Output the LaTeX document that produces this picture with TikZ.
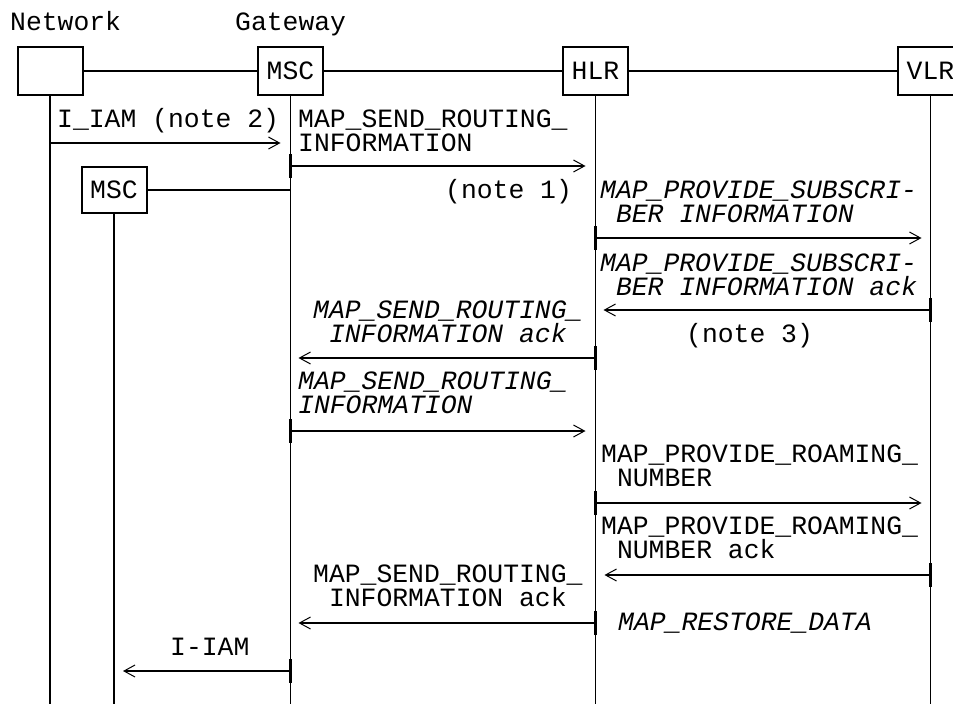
\documentclass[tikz,border=0pt]{standalone}
\usepackage{fontspec}
\setmainfont{Liberation Mono}
\usetikzlibrary{arrows.meta,calc}
\begin{document}
\lineskiplimit=-100pt
\begin{tikzpicture}[x=1pt,y=-1pt,
  every node/.style={font=\fontsize{26.4}{24}\selectfont, inner sep=0pt},
  box/.style={draw, line width=2pt, minimum width=65pt, minimum height=48pt},
  life/.style={line width=1.3pt},
  link/.style={line width=2pt},
  msg/.style={line width=2pt, -{Straight Barb[length=11pt,width=12pt,line width=1pt]}},
  lbl/.style={anchor=base west, align=left},
  it/.style={font=\fontsize{26.4}{24}\selectfont\itshape},
  tick/.style={line width=2.4pt}
]
\useasboundingbox (0,0) rectangle (953,704);
% headers
\node[anchor=base west] (hnet) at (10,30) {Network};
\node[anchor=base west] (hgw) at (235,30) {Gateway};
% boxes
\node[box] (net) at (50,71) {};
\node[box] (gw) at (290.5,71) {MSC};
\node[box] (hlr) at (595.5,71) {HLR};
\node[box] (vlr) at (930.5,71) {VLR};
\node[box, minimum height=46pt] (msc) at (114,190) {MSC};
% links
\draw[link] (net) -- (gw);
\draw[link] (gw) -- (hlr);
\draw[link] (hlr) -- (vlr);
\draw[link] (msc.east) -- (gw |- msc.east);
% lifelines
\foreach \n in {net,gw,hlr,vlr,msc} {
  \coordinate (\n-end) at (\n.south |- 0,704);
  \draw[life] (\n.south) -- (\n-end);
}
% origin ticks
\foreach \s/\y in {net/143, gw/166, hlr/238, vlr/310, hlr/358, gw/431, hlr/503, vlr/575, hlr/623, gw/671} {
  \draw[tick] (\s |- 0,\y-12) -- (\s |- 0,\y+12);
}
% messages
\draw[msg] (net |- 0,143) -- ($(gw |- 0,143)+(-10,0)$);
\draw[msg] (gw |- 0,166) -- ($(hlr |- 0,166)+(-10,0)$);
\draw[msg] (hlr |- 0,238) -- ($(vlr |- 0,238)+(-9,0)$);
\draw[msg] (vlr |- 0,310) -- ($(hlr |- 0,310)+(8,0)$);
\draw[msg] (hlr |- 0,358) -- ($(gw |- 0,358)+(8,0)$);
\draw[msg] (gw |- 0,431) -- ($(hlr |- 0,431)+(-10,0)$);
\draw[msg] (hlr |- 0,503) -- ($(vlr |- 0,503)+(-9,0)$);
\draw[msg] (vlr |- 0,575) -- ($(hlr |- 0,575)+(9,0)$);
\draw[msg] (hlr |- 0,623) -- ($(gw |- 0,623)+(8,0)$);
\draw[msg] (gw |- 0,671) -- ($(msc |- 0,671)+(9,0)$);
% labels
\node[lbl] (l1) at (57,127) {I\_IAM (note 2)};
\node[lbl] (l2) at (298,151) {MAP\_SEND\_ROUTING\_\\INFORMATION};
\node[lbl] (n1) at (445,198) {(note 1)};
\node[lbl,it] (l3) at (600,222) {MAP\_PROVIDE\_SUBSCRI-\\\ BER INFORMATION};
\node[lbl,it] (l4) at (600,295) {MAP\_PROVIDE\_SUBSCRI-\\\ BER INFORMATION ack};
\node[lbl] (n3) at (686,342) {(note 3)};
\node[lbl,it] (l5) at (313,342) {MAP\_SEND\_ROUTING\_\\\ INFORMATION ack};
\node[lbl,it] (l6) at (298,413) {MAP\_SEND\_ROUTING\_\\INFORMATION};
\node[lbl] (l7) at (601,486) {MAP\_PROVIDE\_ROAMING\_\\\ NUMBER};
\node[lbl] (l8) at (601,558) {MAP\_PROVIDE\_ROAMING\_\\\ NUMBER ack};
\node[lbl] (l9) at (313,606) {MAP\_SEND\_ROUTING\_\\\ INFORMATION ack};
\node[lbl,it] (l10) at (618,630) {MAP\_RESTORE\_DATA};
\node[lbl] (l11) at (170,655) {I-IAM};
\end{tikzpicture}
\end{document}
